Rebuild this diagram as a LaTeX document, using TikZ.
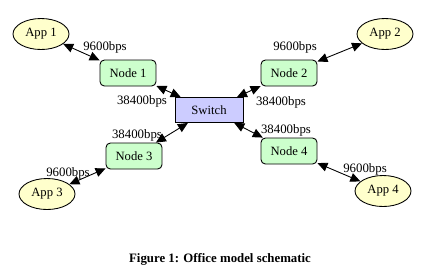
\documentclass[tikz,border=0pt]{standalone}
\usepackage{fontspec}
\setmainfont{Liberation Serif}
\usetikzlibrary{arrows.meta,shapes.geometric}
\definecolor{appc}{RGB}{255,255,204}
\definecolor{hostc}{RGB}{204,255,204}
\definecolor{hubc}{RGB}{204,204,255}
\newcommand{\NW}{1.12cm}
\newcommand{\NH}{0.52cm}
\newcommand{\AH}{0.62cm}

\begin{document}
\begin{tikzpicture}[
    x=0.02cm, y=-0.02cm,
    app/.style={ellipse, draw=black, line width=0.5pt, fill=appc, minimum width=\NW, minimum height=\AH, inner sep=0pt, font=\fontsize{7.2}{8}\selectfont},
    host/.style={rectangle, rounded corners=2.5pt, draw=black, line width=0.5pt, fill=hostc, minimum width=\NW, minimum height=\NH, inner sep=0pt, font=\fontsize{7.2}{8}\selectfont},
    hub/.style={rectangle, draw=black, line width=0.5pt, fill=hubc, minimum width=1.36cm, minimum height=0.50cm, inner sep=0pt, font=\fontsize{7.2}{8}\selectfont},
    link/.style={{Triangle[length=2.0mm,width=1.8mm]}-{Triangle[length=2.0mm,width=1.8mm]}, line width=0.5pt},
    rate/.style={font=\fontsize{7.3}{8}\selectfont, inner sep=0pt},
    caption/.style={font=\fontsize{7.3}{9}\selectfont\bfseries, inner sep=0pt},
  ]
  \useasboundingbox (0,0) rectangle (438,275);

  % --- centre of the office
  \node[hub] (sw) at (209,110) {Switch};

  % --- nodes round the switch
  \node[host] (n1) at (128,73)  {Node 1};
  \node[host] (n2) at (289,73)  {Node 2};
  \node[host] (n3) at (134,156) {Node 3};
  \node[host] (n4) at (289,151) {Node 4};

  % --- applications
  \node[app] (a1) at (41,34)  {App 1};
  \node[app] (a2) at (385,34) {App 2};
  \node[app] (a3) at (47,194) {App 3};
  \node[app] (a4) at (383,191) {App 4};

  % --- links
  \draw[link] (a1) -- (n1);
  \draw[link] (a2) -- (n2);
  \draw[link] (a3) -- (n3);
  \draw[link] (a4) -- (n4);
  \draw[link] (n1) -- (sw);
  \draw[link] (n2) -- (sw);
  \draw[link] (n3) -- (sw);
  \draw[link] (n4) -- (sw);

  % --- link rates
  \node[rate] (r1) at (105,47)  {9600bps};
  \node[rate] (r2) at (295,47)  {9600bps};
  \node[rate] (r3) at (68,173)  {9600bps};
  \node[rate] (r4) at (365,169) {9600bps};
  \node[rate] (s1) at (142,101) {38400bps};
  \node[rate] (s2) at (281,102) {38400bps};
  \node[rate] (s3) at (137,135) {38400bps};
  \node[rate] (s4) at (286,130) {38400bps};

  \node[caption] (cap) at (220,259) {Figure 1: Office model schematic};
\end{tikzpicture}
\end{document}
